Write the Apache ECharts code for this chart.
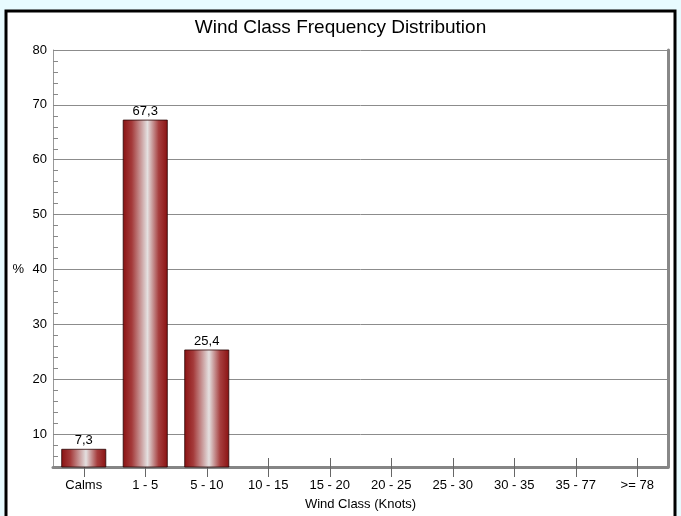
<!DOCTYPE html>
<html>
<head>
<meta charset="utf-8">
<script src="https://cdn.jsdelivr.net/npm/echarts@6/dist/echarts.min.js"></script>
<style>
html,body{margin:0;padding:0;background:#e8fbff;}
#chart{width:681px;height:516px;}
</style>
</head>
<body>
<div id="chart"></div>
<script>
// wind classes and frequency (%)
var classes = ['Calms', '1 - 5', '5 - 10', '10 - 15', '15 - 20', '20 - 25', '25 - 30', '30 - 35', '35 - 77', '>= 78'];
var freq = [7.3, 67.3, 25.4, 0, 0, 0, 0, 0, 0, 0];
var yTicks = [10, 20, 30, 40, 50, 60, 70, 80];

var chart = echarts.init(document.getElementById('chart'));
var font = 'Liberation Sans, Arial, sans-serif';
var barColor = {
    type: 'linear', x: 0, y: 0, x2: 1, y2: 0,
    colorStops: [
        {offset: 0, color: '#8a1212'},
        {offset: 0.2, color: '#a43a3a'},
        {offset: 0.55, color: '#e4e0e0'},
        {offset: 0.8, color: '#a63e3e'},
        {offset: 1, color: '#8a1212'}
    ]
};

var option = {
    backgroundColor: '#e8fbff',
    animation: false,
    graphic: [{
        type: 'rect', z: -10,
        shape: {x: 6, y: 11, width: 669, height: 520},
        style: {fill: '#fff', stroke: '#000', lineWidth: 3}
    }],
    title: {
        text: 'Wind Class Frequency Distribution',
        left: 'center', top: 13,
        textStyle: {fontFamily: font, fontSize: 19, fontWeight: 'normal', color: '#000'}
    },
    grid: {left: 53, right: 13, top: 50, bottom: 47},
    xAxis: [{
        type: 'category',
        data: classes,
        name: 'Wind Class (Knots)',
        nameLocation: 'middle',
        nameGap: 31,
        nameTextStyle: {fontFamily: font, fontSize: 13, color: '#000'},
        axisLine: {lineStyle: {color: '#858585', width: 3}},
        axisTick: {show: true, alignWithLabel: true, length: 10, lineStyle: {color: '#666'}},
        axisLabel: {fontFamily: font, fontSize: 13, color: '#000', margin: 12}
    }, {
        type: 'category',
        data: classes,
        position: 'bottom',
        axisLine: {show: false},
        axisTick: {show: true, inside: true, alignWithLabel: true, length: 9, lineStyle: {color: '#666'}},
        axisLabel: {show: false}
    }],
    yAxis: [{
        type: 'value',
        min: 4, max: 80, interval: 2,
        name: '\n%',
        nameLocation: 'middle',
        nameGap: 29,
        nameRotate: 0,
        nameTextStyle: {fontFamily: font, fontSize: 13, color: '#000', lineHeight: 22},
        axisLine: {show: true, lineStyle: {color: '#999'}},
        axisTick: {show: true, inside: true, length: 5, lineStyle: {color: '#888'}},
        axisLabel: {
            fontFamily: font, fontSize: 13, color: '#000', margin: 6,
            formatter: function (v) { return yTicks.indexOf(v) >= 0 ? String(v) : ''; }
        },
        splitLine: {
            show: true,
            lineStyle: {color: ['rgba(0,0,0,0)', 'rgba(0,0,0,0)', 'rgba(0,0,0,0)', '#8c8c8c', 'rgba(0,0,0,0)']}
        }
    }, {
        type: 'value',
        position: 'right',
        min: 4, max: 80, interval: 2,
        axisLine: {show: true, lineStyle: {color: '#888', width: 3}},
        axisTick: {show: false},
        axisLabel: {show: false},
        splitLine: {show: false}
    }],
    series: [{
        type: 'bar',
        data: freq,
        barWidth: '73%',
        itemStyle: {color: barColor, borderColor: '#2a0505', borderWidth: 0.8},
        label: {
            show: true, position: 'top', distance: 2,
            fontFamily: font, fontSize: 13, color: '#000',
            formatter: function (p) { return p.value > 0 ? String(p.value).replace('.', ',') : ''; }
        }
    }]
};
chart.setOption(option);
</script>
</body>
</html>
